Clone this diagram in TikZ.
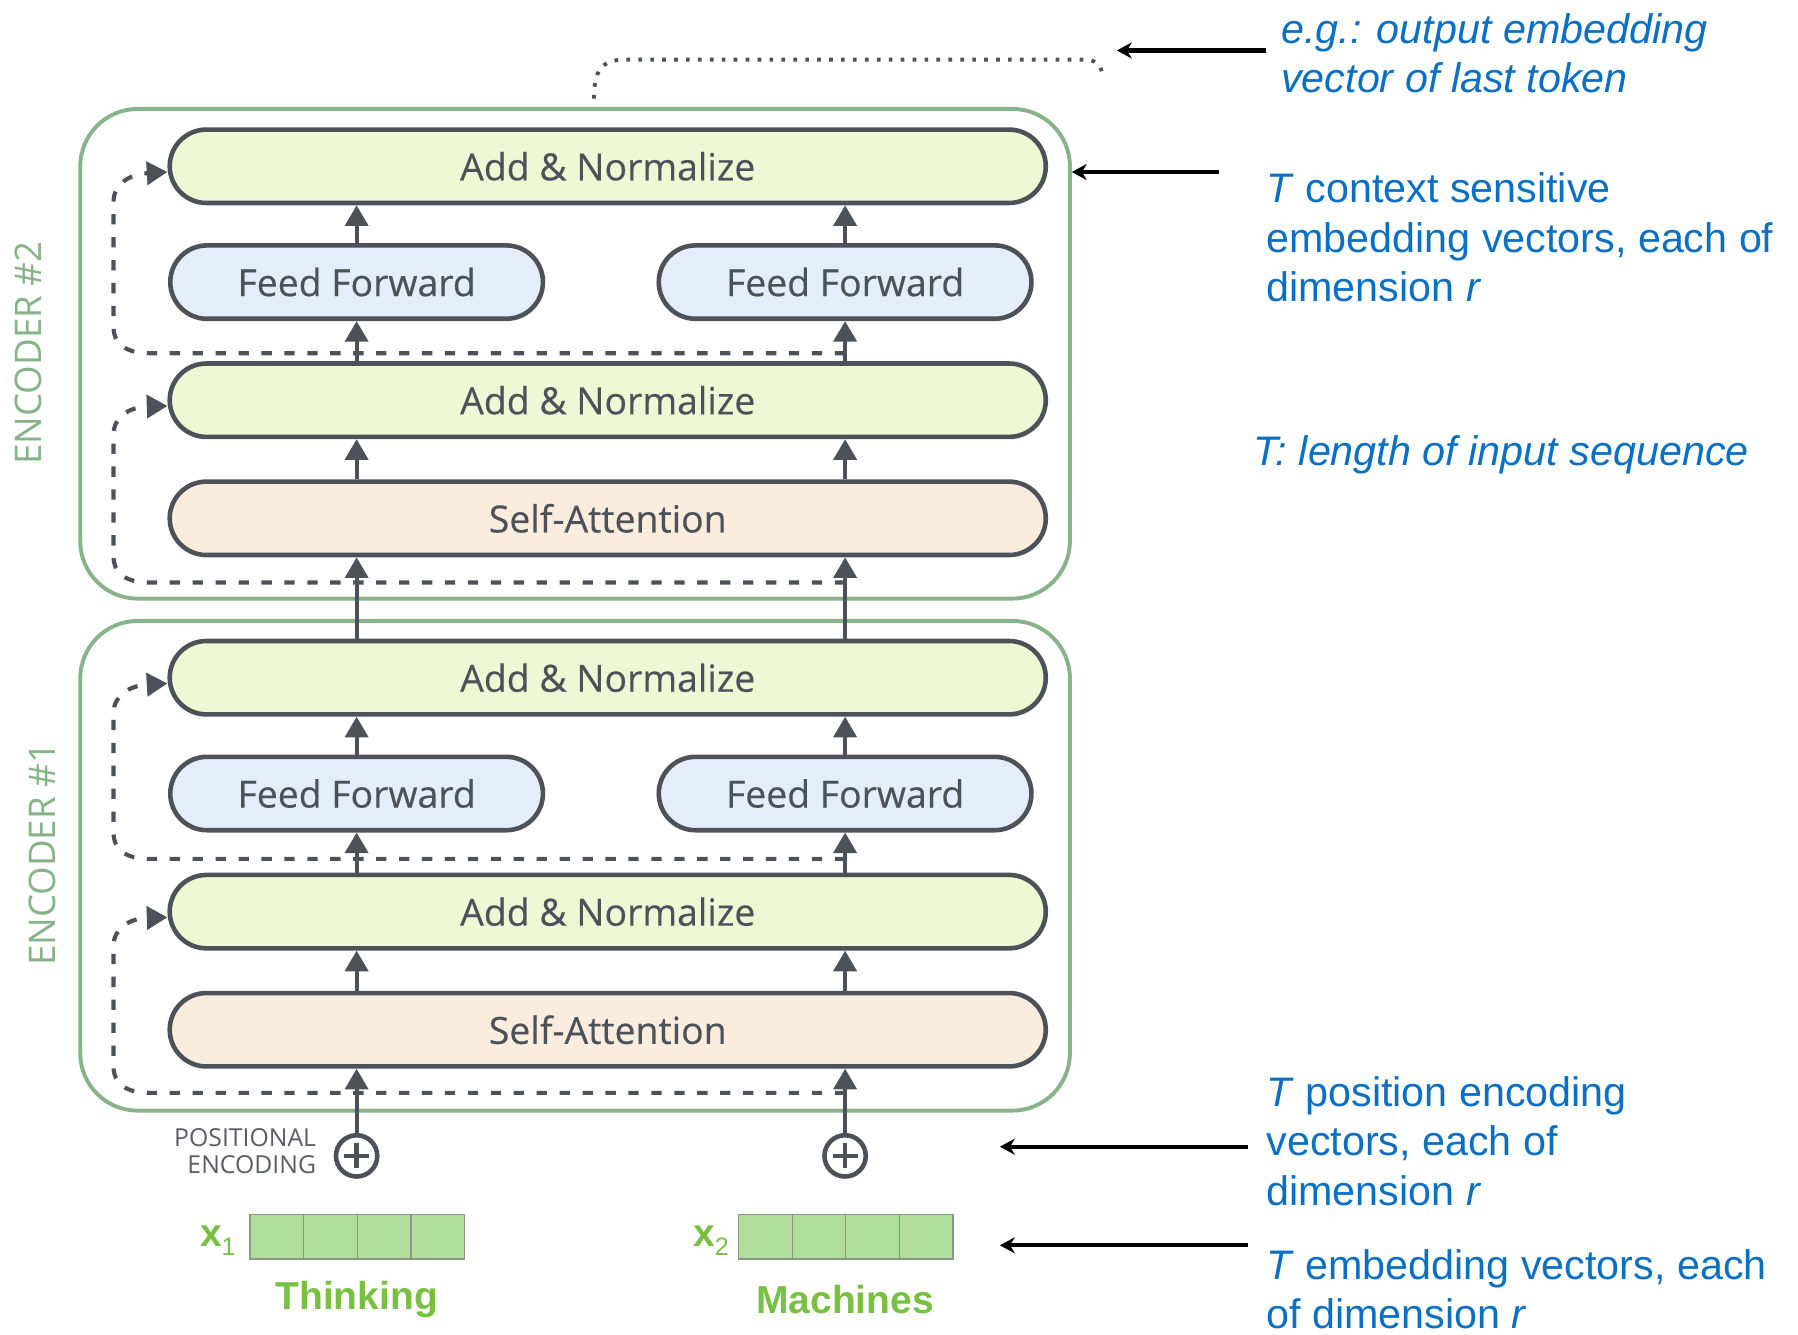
\documentclass[tikz,border=0pt]{standalone}
\usepackage{fontspec}
\setmainfont{Open Sans}
\newfontfamily\boxfont{Open Sans}[FakeBold=0.4]
\newfontfamily\notefont{Liberation Sans}
\usetikzlibrary{arrows.meta,calc}

\definecolor{boxline}{RGB}{77,82,89}
\definecolor{addfill}{RGB}{238,248,212}
\definecolor{fffill}{RGB}{227,238,250}
\definecolor{safill}{RGB}{251,237,221}
\definecolor{encgreen}{RGB}{134,180,136}
\definecolor{wordgreen}{RGB}{120,192,66}
\definecolor{cellfill}{RGB}{178,222,155}
\definecolor{cellline}{RGB}{140,148,140}
\definecolor{noteblue}{RGB}{11,112,196}
\definecolor{pegray}{RGB}{90,94,100}

\begin{document}
\begin{tikzpicture}[x=0.5pt,y=-0.5pt,
  layer/.style={draw=boxline, line width=2pt, rounded corners=16pt,
    minimum height=32pt, inner sep=0pt, text=boxline,
    font=\boxfont\fontsize{16.3}{19}\selectfont},
  addnorm/.style={layer, fill=addfill, minimum width=382pt},
  selfatt/.style={layer, fill=safill, minimum width=382pt},
  ffwd/.style={layer, fill=fffill, minimum width=162.5pt},
  encbox/.style={draw=encgreen, line width=1.7pt, rounded corners=25pt,
    minimum width=431.5pt, minimum height=213.5pt, inner sep=0pt},
  enclabel/.style={text=encgreen, rotate=90, font=\fontsize{16}{19}\selectfont},
  flow/.style={draw=boxline, line width=1.8pt, -{Triangle[length=9pt,width=10pt]}},
  resid/.style={draw=boxline, line width=1.8pt, dash pattern=on 4.5pt off 5.5pt,
    -{Triangle[length=9pt,width=10pt]}},
  dotline/.style={draw=boxline, line width=1.7pt, dash pattern=on 1.6pt off 3.6pt},
  pesum/.style={circle, draw=boxline, line width=2pt, fill=white,
    minimum size=18pt, inner sep=0pt,
    path picture={
      \draw[boxline, line width=2pt]
        ($(path picture bounding box.center)+(-11,0)$) -- ($(path picture bounding box.center)+(11,0)$)
        ($(path picture bounding box.center)+(0,-11)$) -- ($(path picture bounding box.center)+(0,11)$);}},
  pelabel/.style={text=pegray, align=right, inner sep=0pt,
    font=\fontsize{10.8}{11.5}\selectfont},
  cell/.style={draw=cellline, fill=cellfill, line width=0.6pt,
    minimum width=23.4pt, minimum height=19.5pt, inner sep=0pt},
  wordtxt/.style={text=wordgreen, inner sep=0pt,
    font=\notefont\bfseries\fontsize{17}{20}\selectfont},
  note/.style={text=noteblue, align=left, anchor=west, inner sep=0pt,
    font=\notefont\fontsize{18}{21.5}\selectfont},
  pointer/.style={draw=black, line width=1.8pt, -{Stealth[length=6.5pt,width=7pt]}}
]
\fill[white] (0,0) rectangle (1568,1164);
\useasboundingbox (0,0) rectangle (1568,1164);

% encoder frames and their labels
\node[encbox] (enc2) at (501.5,308.5) {};
\node[encbox] (enc1) at (501.5,755) {};
\node[enclabel] (enc2lbl) at (25,308) {ENCODER \#2};
\node[enclabel] (enc1lbl) at (37,745) {ENCODER \#1};

% encoder #2 layers
\node[addnorm] (an2t) at (530,145) {Add \& Normalize};
\node[ffwd]    (ff2l) at (311,246) {Feed Forward};
\node[ffwd]    (ff2r) at (737,246) {Feed Forward};
\node[addnorm] (an2b) at (530,349) {Add \& Normalize};
\node[selfatt] (sa2)  at (530,452) {Self-Attention};

% encoder #1 layers
\node[addnorm] (an1t) at (530,591) {Add \& Normalize};
\node[ffwd]    (ff1l) at (311,692) {Feed Forward};
\node[ffwd]    (ff1r) at (737,692) {Feed Forward};
\node[addnorm] (an1b) at (530,795) {Add \& Normalize};
\node[selfatt] (sa1)  at (530,898) {Self-Attention};

% positional encoding sums
\node[pesum] (pe1) at (311,1008) {};
\node[pesum] (pe2) at (737,1008) {};
\node[pelabel, anchor=east] (pelbl) at (276,1004) {POSITIONAL\\ENCODING};

% residual connections (drawn first so the flow arrows sit on top)
\coordinate (r1low) at (737,953);
\coordinate (r1up)  at (737,749);
\coordinate (r2low) at (737,508);
\coordinate (r2up)  at (737,308);
\draw[resid] (r1low) -- (130,953) .. controls (110,953) and (99,945) .. (99,930)
  -- (99,825) .. controls (99,810) and (112,801) .. ($(an1b.west)+(0,5)$);
\draw[resid] (r1up) -- (130,749) .. controls (110,749) and (99,741) .. (99,726)
  -- (99,622) .. controls (99,607) and (112,598) .. ($(an1t.west)+(0,5)$);
\draw[resid] (r2low) -- (130,508) .. controls (110,508) and (99,500) .. (99,485)
  -- (99,379) .. controls (99,364) and (112,355) .. ($(an2b.west)+(0,5)$);
\draw[resid] (r2up) -- (130,308) .. controls (110,308) and (99,300) .. (99,285)
  -- (99,176) .. controls (99,161) and (112,152) .. ($(an2t.west)+(0,5)$);

% flow through both encoders
\foreach \s/\p in {l/pe1, r/pe2} {
  \draw[flow] (\p.north) -- (sa1.south -| \p);
  \draw[flow] (sa1.north -| ff1\s) -- (an1b.south -| ff1\s);
  \draw[flow] (an1b.north -| ff1\s) -- (ff1\s.south);
  \draw[flow] (ff1\s.north) -- (an1t.south -| ff1\s);
  \draw[flow] (an1t.north -| ff1\s) -- (sa2.south -| ff1\s);
  \draw[flow] (sa2.north -| ff2\s) -- (an2b.south -| ff2\s);
  \draw[flow] (an2b.north -| ff2\s) -- (ff2\s.south);
  \draw[flow] (ff2\s.north) -- (an2t.south -| ff2\s);
}

% output taken from the top of the stack
\draw[dotline] (518,86) .. controls (518,62) and (524,52) .. (545,52)
  -- (945,52) .. controls (955,52) and (960,56) .. (961,64);

% input embeddings
\foreach \i in {0,1,2,3} {
  \node[cell] (xa\i) at ({241.5+46.75*\i},1078.5) {};
  \node[cell] (xb\i) at ({667.5+46.75*\i},1078.5) {};
}
\node[wordtxt] (x1lbl) at (190,1082) {x\raisebox{-0.4ex}{\mdseries\fontsize{11}{11}\selectfont 1}};
\node[wordtxt] (x2lbl) at (620,1082) {x\raisebox{-0.4ex}{\mdseries\fontsize{11}{11}\selectfont 2}};
\node[wordtxt] (w1) at (311,1133) {Thinking};
\node[wordtxt] (w2) at (737,1133) {Machines};

% annotations
\node[note] (n1) at (1117,46.5) {\itshape e.g.: output embedding\\\itshape vector of last token};
\node[note] (n2) at (1104,207) {\textit{T} context sensitive\\embedding vectors, each of\\dimension \textit{r}};
\node[note] (n3) at (1093,397) {\itshape T: length of input sequence};
\node[note] (n4) at (1104,995) {\textit{T} position encoding\\vectors, each of\\dimension \textit{r}};
\node[note] (n5) at (1104,1124) {\textit{T} embedding vectors, each\\of dimension \textit{r}};

\coordinate (p1) at (1104,44);
\coordinate (p2) at (1063,150);
\coordinate (p3) at (1088,1000);
\coordinate (p4) at (1088,1086);
\draw[pointer] (p1) -- (974,44);
\draw[pointer] (p2) -- (p2 -| enc2.east);
\draw[pointer] (p3) -- (872,1000);
\draw[pointer] (p4) -- (872,1086);
\end{tikzpicture}
\end{document}
